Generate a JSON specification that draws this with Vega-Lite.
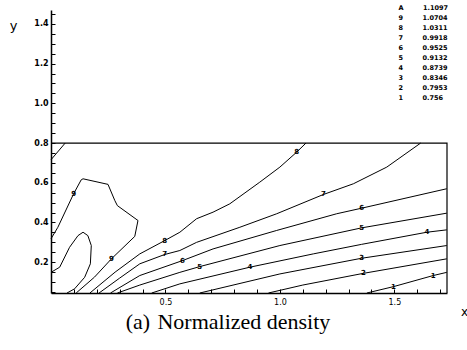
{
  "$schema": "https://vega.github.io/schema/vega-lite/v6.json",
  "width": 396,
  "height": 283,
  "autosize": "none",
  "padding": {"left": 51, "top": 10, "right": 20, "bottom": 57},
  "background": "white",
  "config": {"view": {"stroke": null}, "font": "DejaVu Sans"},
  "title": {"text": "(a)\u2004Normalized density", "orient": "bottom", "font": "Liberation Serif", "fontSize": 22, "fontWeight": "normal", "color": "black", "offset": -5, "dx": -21},
  "datasets": {
    "contours": [
      {"c": "A", "k": "A", "i": 1, "x": 0, "y": 0.149}, {"c": "A", "k": "A", "i": 2, "x": 0.038, "y": 0.175}, {"c": "A", "k": "A", "i": 3, "x": 0.081, "y": 0.275}, {"c": "A", "k": "A", "i": 4, "x": 0.118, "y": 0.334}, {"c": "A", "k": "A", "i": 5, "x": 0.14, "y": 0.351}, {"c": "A", "k": "A", "i": 6, "x": 0.161, "y": 0.334}, {"c": "A", "k": "A", "i": 7, "x": 0.176, "y": 0.284}, {"c": "A", "k": "A", "i": 8, "x": 0.172, "y": 0.192}, {"c": "A", "k": "A", "i": 9, "x": 0.147, "y": 0.124}, {"c": "A", "k": "A", "i": 10, "x": 0.103, "y": 0.066}, {"c": "A", "k": "A", "i": 11, "x": 0.07, "y": 0.045},
      {"c": "9", "k": "9", "i": 1, "x": 0, "y": 0.318}, {"c": "9", "k": "9", "i": 2, "x": 0.03, "y": 0.376}, {"c": "9", "k": "9", "i": 3, "x": 0.099, "y": 0.545}, {"c": "9", "k": "9", "i": 4, "x": 0.132, "y": 0.615}, {"c": "9", "k": "9", "i": 5, "x": 0.14, "y": 0.62}, {"c": "9", "k": "9", "i": 6, "x": 0.249, "y": 0.592}, {"c": "9", "k": "9", "i": 7, "x": 0.279, "y": 0.51}, {"c": "9", "k": "9", "i": 8, "x": 0.29, "y": 0.485}, {"c": "9", "k": "9", "i": 9, "x": 0.38, "y": 0.41}, {"c": "9", "k": "9", "i": 10, "x": 0.366, "y": 0.33}, {"c": "9", "k": "9", "i": 11, "x": 0.264, "y": 0.217}, {"c": "9", "k": "9", "i": 12, "x": 0.19, "y": 0.125}, {"c": "9", "k": "9", "i": 13, "x": 0.11, "y": 0.045},
      {"c": "9b", "k": "9", "i": 1, "x": 0, "y": 0.716}, {"c": "9b", "k": "9", "i": 2, "x": 0.062, "y": 0.8},
      {"c": "8", "k": "8", "i": 1, "x": 0.17, "y": 0.045}, {"c": "8", "k": "8", "i": 2, "x": 0.28, "y": 0.15}, {"c": "8", "k": "8", "i": 3, "x": 0.388, "y": 0.242}, {"c": "8", "k": "8", "i": 4, "x": 0.497, "y": 0.309}, {"c": "8", "k": "8", "i": 5, "x": 0.563, "y": 0.351}, {"c": "8", "k": "8", "i": 6, "x": 0.636, "y": 0.419}, {"c": "8", "k": "8", "i": 7, "x": 0.708, "y": 0.452}, {"c": "8", "k": "8", "i": 8, "x": 0.781, "y": 0.494}, {"c": "8", "k": "8", "i": 9, "x": 0.912, "y": 0.603}, {"c": "8", "k": "8", "i": 10, "x": 1.0, "y": 0.679}, {"c": "8", "k": "8", "i": 11, "x": 1.073, "y": 0.754}, {"c": "8", "k": "8", "i": 12, "x": 1.114, "y": 0.8},
      {"c": "7", "k": "7", "i": 1, "x": 0.21, "y": 0.045}, {"c": "7", "k": "7", "i": 2, "x": 0.3, "y": 0.12}, {"c": "7", "k": "7", "i": 3, "x": 0.388, "y": 0.192}, {"c": "7", "k": "7", "i": 4, "x": 0.497, "y": 0.239}, {"c": "7", "k": "7", "i": 5, "x": 0.563, "y": 0.259}, {"c": "7", "k": "7", "i": 6, "x": 0.636, "y": 0.3}, {"c": "7", "k": "7", "i": 7, "x": 0.825, "y": 0.376}, {"c": "7", "k": "7", "i": 8, "x": 0.986, "y": 0.444}, {"c": "7", "k": "7", "i": 9, "x": 1.19, "y": 0.541}, {"c": "7", "k": "7", "i": 10, "x": 1.321, "y": 0.595}, {"c": "7", "k": "7", "i": 11, "x": 1.467, "y": 0.679}, {"c": "7", "k": "7", "i": 12, "x": 1.615, "y": 0.8},
      {"c": "6", "k": "6", "i": 1, "x": 0.26, "y": 0.045}, {"c": "6", "k": "6", "i": 2, "x": 0.388, "y": 0.133}, {"c": "6", "k": "6", "i": 3, "x": 0.574, "y": 0.208}, {"c": "6", "k": "6", "i": 4, "x": 0.708, "y": 0.267}, {"c": "6", "k": "6", "i": 5, "x": 0.986, "y": 0.36}, {"c": "6", "k": "6", "i": 6, "x": 1.248, "y": 0.444}, {"c": "6", "k": "6", "i": 7, "x": 1.357, "y": 0.472}, {"c": "6", "k": "6", "i": 8, "x": 1.729, "y": 0.57},
      {"c": "5", "k": "5", "i": 1, "x": 0.29, "y": 0.045}, {"c": "5", "k": "5", "i": 2, "x": 0.388, "y": 0.085}, {"c": "5", "k": "5", "i": 3, "x": 0.563, "y": 0.149}, {"c": "5", "k": "5", "i": 4, "x": 0.65, "y": 0.178}, {"c": "5", "k": "5", "i": 5, "x": 1.0, "y": 0.284}, {"c": "5", "k": "5", "i": 6, "x": 1.357, "y": 0.373}, {"c": "5", "k": "5", "i": 7, "x": 1.729, "y": 0.447},
      {"c": "4", "k": "4", "i": 1, "x": 0.44, "y": 0.045}, {"c": "4", "k": "4", "i": 2, "x": 0.563, "y": 0.091}, {"c": "4", "k": "4", "i": 3, "x": 0.869, "y": 0.175}, {"c": "4", "k": "4", "i": 4, "x": 1.146, "y": 0.242}, {"c": "4", "k": "4", "i": 5, "x": 1.357, "y": 0.29}, {"c": "4", "k": "4", "i": 6, "x": 1.642, "y": 0.351}, {"c": "4", "k": "4", "i": 7, "x": 1.729, "y": 0.363},
      {"c": "3", "k": "3", "i": 1, "x": 0.65, "y": 0.045}, {"c": "3", "k": "3", "i": 2, "x": 1.0, "y": 0.141}, {"c": "3", "k": "3", "i": 3, "x": 1.357, "y": 0.22}, {"c": "3", "k": "3", "i": 4, "x": 1.729, "y": 0.284},
      {"c": "2", "k": "2", "i": 1, "x": 0.95, "y": 0.045}, {"c": "2", "k": "2", "i": 2, "x": 1.1, "y": 0.085}, {"c": "2", "k": "2", "i": 3, "x": 1.365, "y": 0.144}, {"c": "2", "k": "2", "i": 4, "x": 1.729, "y": 0.217},
      {"c": "1", "k": "1", "i": 1, "x": 1.38, "y": 0.045}, {"c": "1", "k": "1", "i": 2, "x": 1.496, "y": 0.077}, {"c": "1", "k": "1", "i": 3, "x": 1.67, "y": 0.133}, {"c": "1", "k": "1", "i": 4, "x": 1.729, "y": 0.149}
    ],
    "box": [
      {"i": 1, "x": 0, "y": 0.8}, {"i": 2, "x": 1.73, "y": 0.8}, {"i": 3, "x": 1.73, "y": 0.045}
    ],
    "labels": [
      {"t": "9", "x": 0.099, "y": 0.545}, {"t": "9", "x": 0.264, "y": 0.217}, {"t": "8", "x": 0.497, "y": 0.309}, {"t": "7", "x": 0.497, "y": 0.239}, {"t": "6", "x": 0.574, "y": 0.208}, {"t": "5", "x": 0.65, "y": 0.178}, {"t": "4", "x": 0.869, "y": 0.175}, {"t": "8", "x": 1.073, "y": 0.754}, {"t": "7", "x": 1.19, "y": 0.541}, {"t": "6", "x": 1.357, "y": 0.472}, {"t": "5", "x": 1.357, "y": 0.373}, {"t": "4", "x": 1.642, "y": 0.351}, {"t": "3", "x": 1.357, "y": 0.22}, {"t": "2", "x": 1.365, "y": 0.144}, {"t": "1", "x": 1.67, "y": 0.133}, {"t": "1", "x": 1.496, "y": 0.077}
    ]
  },
  "encoding": {
    "x": {"field": "x", "type": "quantitative", "scale": {"domain": [0, 1.73], "nice": false, "zero": false},
      "axis": {"values": [0.1,0.2,0.3,0.4,0.5,0.6,0.7,0.8,0.9,1.0,1.1,1.2,1.3,1.4,1.5,1.6,1.7],
        "labelExpr": "(datum.value==0.5||datum.value==1||datum.value==1.5) ? format(datum.value,'.1f') : ''",
        "labelOverlap": false, "labelFlush": false, "labelBound": false, "grid": false,
        "tickSize": -4, "tickColor": "black", "domainColor": "black", "domainWidth": 1.5, "labelPadding": 9,
        "labelFontSize": 8, "labelColor": "black", "labelFont": "DejaVu Sans",
        "title": "x", "titleAngle": 0, "titleX": 413, "titleY": 18, "titleBaseline": "middle", "titleAlign": "center", "titleFontSize": 12, "titleFontWeight": "normal", "titleColor": "black"}},
    "y": {"field": "y", "type": "quantitative", "scale": {"domain": [0.045, 1.47], "nice": false, "zero": false},
      "axis": {"values": [0.05,0.1,0.15,0.2,0.25,0.3,0.35,0.4,0.45,0.5,0.55,0.6,0.65,0.7,0.75,0.8,0.85,0.9,0.95,1.0,1.05,1.1,1.15,1.2,1.25,1.3,1.35,1.4,1.45],
        "labelExpr": "(abs(datum.value*5 - round(datum.value*5)) < 0.01) ? format(datum.value,'.1f') : ''",
        "labelOverlap": false, "labelFlush": false, "labelBound": false, "grid": false,
        "tickSize": -4, "tickColor": "black", "domainColor": "black", "domainWidth": 1.5, "labelPadding": 7,
        "labelFontSize": 8, "labelColor": "black", "labelFont": "DejaVu Sans", "labelFontWeight": "bold",
        "title": "y", "titleAngle": 0, "titleX": -38, "titleY": 15, "titleBaseline": "middle", "titleAlign": "center", "titleFontSize": 13, "titleFontWeight": "normal", "titleColor": "black"}}
  },
  "layer": [
    {
      "data": {"name": "contours"},
      "mark": {"type": "line", "strokeWidth": 1},
      "encoding": {
        "detail": {"field": "c"},
        "order": {"field": "i", "type": "quantitative"},
        "stroke": {"field": "k", "type": "nominal",
          "scale": {"domain": ["A","9","8","7","6","5","4","3","2","1"], "range": ["black","black","black","black","black","black","black","black","black","black"]},
          "legend": {"orient": "none", "legendX": 341, "legendY": -5, "title": null,
            "symbolSize": 0, "symbolStrokeWidth": 0, "symbolOpacity": 0, "labelOffset": 0,
            "labelFontSize": 6.5, "labelFont": "DejaVu Sans", "labelFontWeight": "bold", "labelColor": "black", "rowPadding": 3,
            "labelExpr": "datum.label + '\u2003\u2003\u2003' + ({'A':'1.1097','9':'1.0704','8':'1.0311','7':'0.9918','6':'0.9525','5':'0.9132','4':'0.8739','3':'0.8346','2':'0.7953','1':'0.756'})[datum.label]"}}
      }
    },
    {
      "data": {"name": "box"},
      "mark": {"type": "line", "strokeWidth": 1.2, "color": "black"},
      "encoding": {"order": {"field": "i", "type": "quantitative"}}
    },
    {
      "data": {"name": "labels"},
      "mark": {"type": "text", "fontSize": 7, "fontWeight": "bold", "color": "black", "font": "DejaVu Sans"},
      "encoding": {"text": {"field": "t"}}
    }
  ]
}
